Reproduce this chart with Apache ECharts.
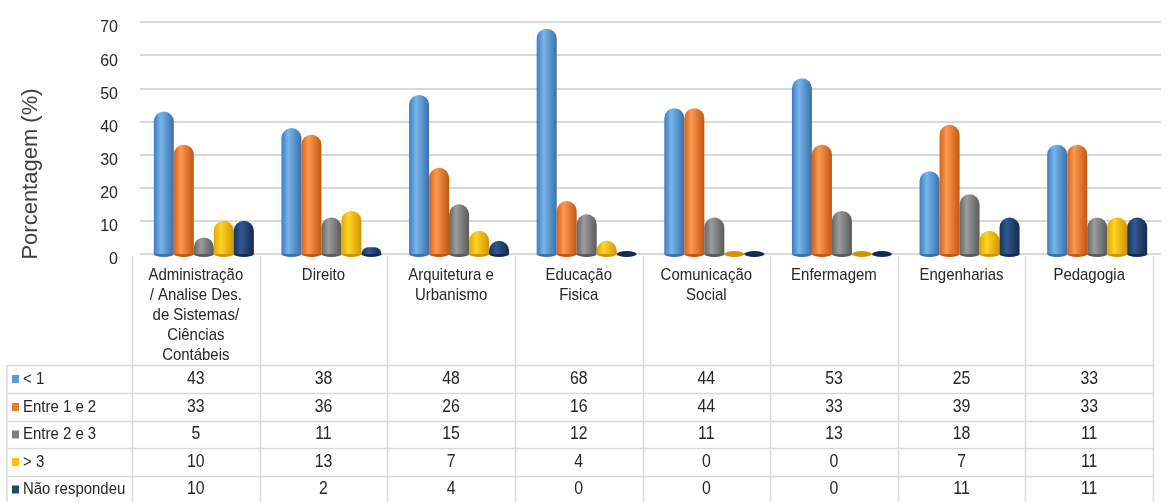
<!DOCTYPE html>
<html>
<head>
<meta charset="utf-8">
<script src="https://cdn.jsdelivr.net/npm/echarts@6/dist/echarts.min.js"></script>
<style>
  html, body { margin: 0; padding: 0; background: #fff; }
  #chartmain { width: 1171px; height: 502px; }
</style>
</head>
<body>
<div id="chartmain"></div>
<script>
// dados do gráfico
var categorias = [
    'Administração\n/ Analise Des.\nde Sistemas/\nCiências\nContábeis',
    'Direito',
    'Arquitetura e\nUrbanismo',
    'Educação\nFisica',
    'Comunicação\nSocial',
    'Enfermagem',
    'Engenharias',
    'Pedagogia'
];
var nomesSeries = ['< 1', 'Entre 1 e 2', 'Entre 2 e 3', '> 3', 'Não respondeu'];
var menos1     = [43, 38, 48, 68, 44, 53, 25, 33];
var entre1e2   = [33, 36, 26, 16, 44, 33, 39, 33];
var entre2e3   = [5, 11, 15, 12, 11, 13, 18, 11];
var mais3      = [10, 13, 7, 4, 0, 0, 7, 11];
var naoResp    = [10, 2, 4, 0, 0, 0, 11, 11];
var valores = [menos1, entre1e2, entre2e3, mais3, naoResp];
var ticksY = [0, 10, 20, 30, 40, 50, 60, 70];

// cores (esquerda escura, brilho, direita escura, base)
var cores = [
    ['#3e7dbe', '#76b5ec', '#3b70a8', '#5b9bd5'],
    ['#d3641b', '#fa9a4e', '#c2570f', '#ed7d31'],
    ['#666666', '#9c9c9c', '#5a5a5a', '#7f7f7f'],
    ['#e2a500', '#ffd426', '#cf9600', '#ffc000'],
    ['#1a335e', '#325893', '#142a4e', '#264478']
];

var fonte = '"Liberation Sans", Arial, sans-serif';
var corTexto = '#262626';
var corLinha = '#d9d9d9';
var escalaX = 0.88;

// layout da tabela
var tabEsq = 7, colIni = 132, colFim = 1153;
var colLarg = (colFim - colIni) / categorias.length;
var linhasY = [365, 393, 421, 448, 476, 503];

function texto(x, y, t, tam, alinh, cor) {
    return {
        type: 'text', x: x, y: y, scaleX: escalaX,
        style: { text: t, font: tam + 'px ' + fonte, fill: cor || corTexto,
                 textAlign: alinh, textVerticalAlign: 'middle', lineHeight: 20 }
    };
}

var graficos = [];
// título do eixo Y
graficos.push({
    type: 'text', x: 31, y: 174, rotation: Math.PI / 2,
    style: { text: 'Porcentagem (%)', font: '22px ' + fonte, fill: '#404040',
             textAlign: 'center', textVerticalAlign: 'middle' }
});
// linhas verticais
for (var k = 0; k <= categorias.length; k++) {
    var xv = Math.round(colIni + k * colLarg) + 0.5;
    graficos.push({ type: 'line', shape: { x1: xv, y1: 256, x2: xv, y2: 502 },
                    style: { stroke: corLinha, lineWidth: 1.5 } });
}
graficos.push({ type: 'line', shape: { x1: tabEsq, y1: linhasY[0], x2: tabEsq, y2: 502 },
                style: { stroke: corLinha, lineWidth: 1.5 } });
// linhas horizontais
for (var r = 0; r < linhasY.length - 1; r++) {
    graficos.push({ type: 'line', shape: { x1: tabEsq, y1: linhasY[r] + 0.5, x2: colFim, y2: linhasY[r] + 0.5 },
                    style: { stroke: corLinha, lineWidth: 1.5 } });
}
// cabeçalho: categorias
for (var c0 = 0; c0 < categorias.length; c0++) {
    var linhas = categorias[c0].split('\n');
    for (var l = 0; l < linhas.length; l++) {
        graficos.push(texto(colIni + (c0 + 0.5) * colLarg, 275 + l * 20, linhas[l], 17, 'center'));
    }
}
// linhas da tabela: legenda + valores
for (var s = 0; s < nomesSeries.length; s++) {
    var yc = (linhasY[s] + linhasY[s + 1]) / 2;
    graficos.push({ type: 'rect', shape: { x: 12, y: yc - 4, width: 7, height: 8 },
                    style: { fill: cores[s][3] } });
    graficos.push(texto(23, yc, nomesSeries[s], 17, 'left'));
    for (var c = 0; c < categorias.length; c++) {
        graficos.push(texto(colIni + (c + 0.5) * colLarg, yc, String(valores[s][c]), 18, 'center'));
    }
}

var series = [];
nomesSeries.forEach(function (nome, i) {
    series.push({
        name: nome,
        type: 'bar',
        barWidth: 20,
        barGap: '0%',
        z: 3,
        data: valores[i],
        itemStyle: {
            borderRadius: [10, 10, 0, 0],
            color: new echarts.graphic.LinearGradient(0, 0, 1, 0, [
                { offset: 0, color: cores[i][0] },
                { offset: 0.35, color: cores[i][1] },
                { offset: 1, color: cores[i][2] }
            ])
        }
    });
});
// base elíptica de cada cilindro
nomesSeries.forEach(function (nome, i) {
    series.push({
        name: nome,
        type: 'pictorialBar',
        barWidth: 20,
        barGap: '0%',
        z: 2,
        symbol: 'circle',
        symbolSize: [20, 6],
        symbolPosition: 'start',
        symbolOffset: [0, '50%'],
        data: valores[i],
        itemStyle: { color: cores[i][2] }
    });
});

var option = {
    animation: false,
    backgroundColor: '#ffffff',
    grid: { left: 140, right: 10, top: 22, bottom: 248 },
    xAxis: {
        type: 'category',
        data: categorias,
        axisLine: { show: false },
        axisTick: { show: false },
        axisLabel: { show: false }
    },
    yAxis: {
        type: 'value',
        min: 0, max: 70, interval: 10,
        axisLine: { show: false },
        axisTick: { show: false },
        splitLine: { lineStyle: { color: corLinha, width: 2 } },
        axisLabel: {
            margin: 22, fontSize: 16, fontFamily: fonte, color: corTexto,
            verticalAlign: 'top', lineHeight: 12,
            formatter: function (v) { return ticksY.indexOf(v) >= 0 ? String(v) : ''; }
        }
    },
    graphic: graficos,
    series: series
};

var myChart = echarts.init(document.getElementById('chartmain'));
myChart.setOption(option);
</script>
</body>
</html>
